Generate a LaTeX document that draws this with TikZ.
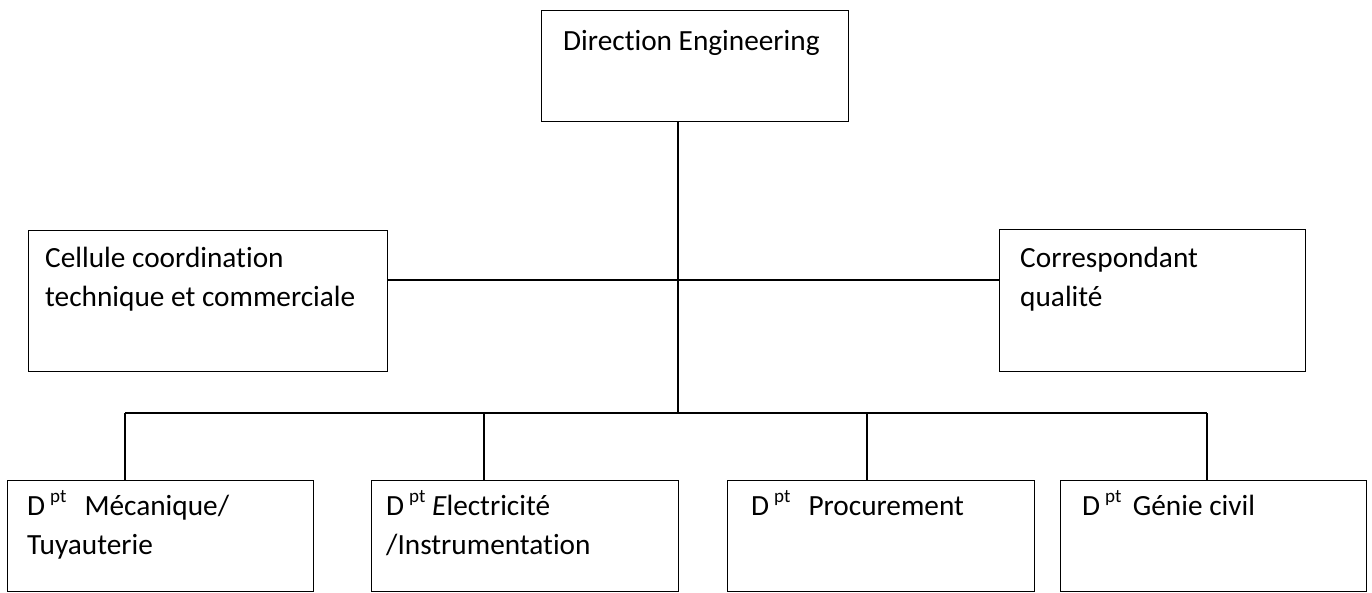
\documentclass[tikz,border=0pt]{standalone}
\usepackage{fontspec}
\setmainfont{Carlito}[Ligatures=NoCommon]
\newcommand\mytwoline[2]{\vtop{\hbox{#1}\hbox{#2}}}
\newcommand\dpt{D\,\raisebox{0.42em}{\fontsize{19}{19}\selectfont pt}}
\begin{document}
\begin{tikzpicture}[x=1pt,y=-1pt,
  box/.style={draw, line width=1.2pt, inner sep=0pt, anchor=north west},
  lbl/.style={anchor=base west, inner sep=0pt},
  conn/.style={line width=1.4pt}]
\fontsize{29.3}{39}\selectfont
\useasboundingbox (0,0) rectangle (1372,592);
% boxes
\node[box, minimum width=307pt, minimum height=111pt] (top) at (541,10) {};
\node[box, minimum width=359pt, minimum height=141pt] (left) at (28,230) {};
\node[box, minimum width=306pt, minimum height=142pt] (right) at (999,229) {};
\node[box, minimum width=306pt, minimum height=111pt] (b1) at (7,480) {};
\node[box, minimum width=307pt, minimum height=111pt] (b2) at (371,480) {};
\node[box, minimum width=307pt, minimum height=111pt] (b3) at (727,480) {};
\node[box, minimum width=306pt, minimum height=111pt] (b4) at (1060,480) {};
% texts
\node[lbl] (ttop) at (563,50) {Direction Engineering};
\node[lbl] (tleft) at (45,267) {\mytwoline{Cellule coordination}{technique et commerciale}};
\node[lbl] (tright) at (1020,267) {\mytwoline{Correspondant}{qualité}};
\node[lbl] (tb1) at (27,515) {\mytwoline{\dpt\ \ \,Mécanique/}{Tuyauterie}};
\node[lbl] (tb2) at (386,515) {\mytwoline{\dpt\ \textit{E}lectricité}{/Instrumentation}};
\node[lbl] (tb3) at (751,515) {\dpt\ \ \,Procurement};
\node[lbl] (tb4) at (1082,515) {\dpt\ \,Génie civil};
% junctions
\coordinate (j1) at (678,280);
\coordinate (j2) at (678,413);
\coordinate (d1) at (125,413);
\coordinate (d2) at (484,413);
\coordinate (d3) at (867,413);
\coordinate (d4) at (1207,413);
% connectors
\draw[conn] (top.south -| j2) -- (j2);
\draw[conn] (left.east |- j1) -- (right.west |- j1);
\draw[conn] (d1) -- (d4);
\draw[conn] (d1) -- (d1 |- b1.north);
\draw[conn] (d2) -- (d2 |- b2.north);
\draw[conn] (d3) -- (d3 |- b3.north);
\draw[conn] (d4) -- (d4 |- b4.north);
\end{tikzpicture}
\end{document}
